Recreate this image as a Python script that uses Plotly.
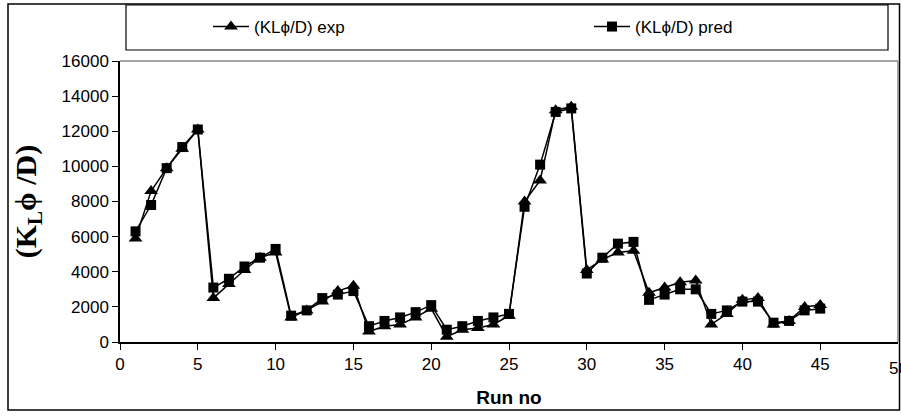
import plotly.graph_objects as go

run_no = list(range(1, 46))
kl_exp = [5900, 8600, 9900, 11000, 12100, 2500, 3300, 4100, 4800, 5100,
          1400, 1800, 2300, 2900, 3200, 600, 900, 1000, 1400, 1900,
          300, 700, 800, 1000, 1500, 8000, 9200, 13200, 13400, 4100,
          4700, 5100, 5200, 2800, 3100, 3400, 3500, 1000, 1600, 2400,
          2500, 1000, 1200, 2000, 2100]
kl_pred = [6300, 7800, 9900, 11100, 12100, 3100, 3600, 4300, 4800, 5300,
           1500, 1800, 2500, 2700, 2900, 900, 1200, 1400, 1700, 2100,
           700, 900, 1200, 1400, 1600, 7700, 10100, 13100, 13300, 3900,
           4800, 5600, 5700, 2400, 2700, 3000, 3000, 1600, 1800, 2300,
           2300, 1100, 1200, 1800, 1900]
x_ticks = [0, 5, 10, 15, 20, 25, 30, 35, 40, 45, 50]
y_ticks = [0, 2000, 4000, 6000, 8000, 10000, 12000, 14000, 16000]

fig = go.Figure()
fig.add_trace(go.Scatter(x=run_no, y=kl_exp, mode="lines+markers",
                         name="(KL\u03d5/D) exp", legend="legend",
                         line=dict(color="black", width=1.5),
                         marker=dict(symbol="triangle-up", size=12, color="black")))
fig.add_trace(go.Scatter(x=run_no, y=kl_pred, mode="lines+markers",
                         name="(KL\u03d5/D) pred", legend="legend2",
                         line=dict(color="black", width=1.5),
                         marker=dict(symbol="square", size=10, color="black")))

L, R, T, B = 120, 3, 61, 77
W, H = 901, 419
pw, ph = W - L - R, H - T - B

def px_x(p):
    return (p - L) / pw

def px_y(p):
    return (H - B - p) / ph

shapes = [
    dict(type="rect", xref="paper", yref="paper", x0=px_x(8), x1=px_x(899.5),
         y0=px_y(410), y1=px_y(4), line=dict(color="black", width=1.5)),
    dict(type="rect", xref="paper", yref="paper", x0=px_x(126), x1=px_x(888),
         y0=px_y(50), y1=px_y(5), line=dict(color="black", width=1.2)),
    dict(type="line", xref="paper", yref="paper", x0=0, x1=1, y0=1, y1=1,
         line=dict(color="#888888", width=1.5)),
    dict(type="line", xref="paper", yref="paper", x0=1, x1=1, y0=0, y1=1,
         line=dict(color="#888888", width=1.5)),
]

leg_common = dict(orientation="h", xanchor="left", yanchor="middle",
                  bgcolor="rgba(0,0,0,0)", borderwidth=0, itemwidth=36,
                  font=dict(family="Liberation Sans, Arial", size=17))

fig.update_layout(
    width=W, height=H,
    margin=dict(l=L, r=R, t=T, b=B),
    paper_bgcolor="white", plot_bgcolor="white",
    font=dict(family="Liberation Sans, Arial", size=17, color="black"),
    showlegend=True,
    legend=dict(x=px_x(208), y=px_y(27), **leg_common),
    legend2=dict(x=px_x(589), y=px_y(27), **leg_common),
    shapes=shapes,
    annotations=[dict(text="50", xref="x", x=50, yref="paper", y=px_y(357),
                      xanchor="center", yanchor="top", showarrow=False,
                      font=dict(family="Liberation Sans, Arial", size=17))],
    xaxis=dict(range=[0, 50], tickvals=x_ticks[:-1], ticktext=[str(v) for v in x_ticks[:-1]],
               showgrid=False, zeroline=False, showline=True, linecolor="black",
               linewidth=1.5, ticks="outside", ticklen=6, tickcolor="black",
               tickfont=dict(size=17),
               title=dict(text="<b>Run no</b>", font=dict(size=19), standoff=18)),
    yaxis=dict(range=[0, 16000], tickvals=y_ticks, ticktext=[str(v) for v in y_ticks],
               showgrid=False, zeroline=False, showline=True, linecolor="black",
               linewidth=1.5, ticks="outside", ticklen=6, tickcolor="black",
               tickfont=dict(size=17),
               title=dict(text="<b>(K<sub>L</sub>\u03d5 /D)</b>",
                          font=dict(family="Liberation Serif, Times New Roman", size=30),
                          standoff=16)),
)

fig.write_html("out.html")
